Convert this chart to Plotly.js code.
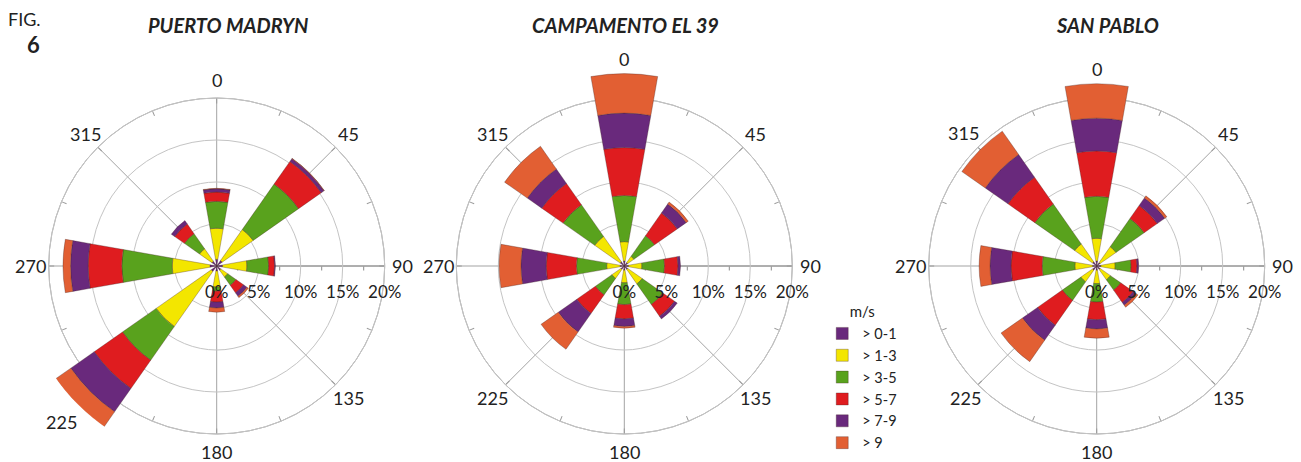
<!DOCTYPE html>
<html>
<head>
<meta charset="utf-8">
<script src="https://cdn.plot.ly/plotly-3.0.1.min.js"></script>
<style>html,body{margin:0;padding:0;background:#fff;}#chart{width:1301px;height:462px;}</style>
</head>
<body>
<div id="chart"></div>
<script>
// Wind direction sectors (degrees)
const directions = [0, 45, 90, 135, 180, 225, 270, 315];
const directionLabels = ['0', '45', '90', '135', '180', '225', '270', '315'];
const speedBins = ['> 0-1', '> 1-3', '> 3-5', '> 5-7', '> 7-9', '> 9'];
const stations = ['PUERTO MADRYN', 'CAMPAMENTO EL 39', 'SAN PABLO'];
const radialTicks = [0, 5, 10, 15, 20];

// Frequency (%) per speed bin, per direction
const puertoMadryn_0_1 = [0.8, 0.8, 0.7, 0.6, 0.6, 0.8, 0.8, 0.7];
const puertoMadryn_1_3 = [3.7, 4.5, 2.9, 1.0, 1.9, 8.0, 4.5, 1.8];
const puertoMadryn_3_5 = [3.2, 6.6, 2.6, 1.2, 0.5, 4.9, 6.0, 2.2];
const puertoMadryn_5_7 = [1.1, 3.3, 0.7, 1.1, 1.3, 4.1, 4.0, 1.4];
const puertoMadryn_7_9 = [0.4, 0.4, 0.1, 0.5, 0.7, 3.4, 2.1, 0.5];
const puertoMadryn_9 = [0.05, 0.05, 0, 0.2, 0.5, 2.2, 0.9, 0];

const campamento_0_1 = [0.6, 0.5, 0.5, 0.5, 0.5, 0.5, 0.5, 0.6];
const campamento_1_3 = [2.3, 0.9, 1.6, 2.1, 1.5, 1.3, 1.6, 3.7];
const campamento_3_5 = [5.5, 3.0, 2.7, 3.0, 2.6, 2.4, 3.6, 4.6];
const campamento_5_7 = [5.7, 3.3, 1.6, 1.7, 1.7, 2.7, 3.6, 3.1];
const campamento_7_9 = [4.1, 1.3, 0.3, 0.4, 0.9, 2.7, 3.0, 2.1];
const campamento_9 = [4.7, 0.3, 0, 0, 0.2, 2.5, 2.6, 3.3];

const sanPablo_0_1 = [0.6, 0.5, 0.5, 0.5, 0.5, 0.6, 0.5, 0.6];
const sanPablo_1_3 = [2.7, 2.3, 1.7, 1.5, 1.6, 1.7, 2.1, 2.6];
const sanPablo_3_5 = [5.0, 4.1, 1.9, 1.5, 2.2, 2.7, 3.9, 5.8];
const sanPablo_5_7 = [5.4, 1.9, 0.7, 1.8, 2.1, 3.6, 3.7, 3.9];
const sanPablo_7_9 = [3.9, 1.1, 0.2, 0.4, 1.1, 2.2, 2.5, 3.3];
const sanPablo_9 = [4.1, 0.3, 0, 0.3, 1.1, 3.1, 1.3, 3.4];

const stationSeries = [
  [puertoMadryn_0_1, puertoMadryn_1_3, puertoMadryn_3_5, puertoMadryn_5_7, puertoMadryn_7_9, puertoMadryn_9],
  [campamento_0_1, campamento_1_3, campamento_3_5, campamento_5_7, campamento_7_9, campamento_9],
  [sanPablo_0_1, sanPablo_1_3, sanPablo_3_5, sanPablo_5_7, sanPablo_7_9, sanPablo_9]
];

const binColors = ['#69297C', '#F3E600', '#59A21D', '#DF1C1F', '#69297C', '#E25F33'];
const FONT = 'Lato, "Open Sans", "DejaVu Sans", sans-serif';
const TXT = '#222';

// ---- geometry (pixels) ----
const W = 1301, H = 462;
const centersX = [216.7, 624.3, 1096.7];
const centerY = 266;
const R20 = 168;               // pixel radius of the 20% circle
const RBAR = 196;              // pixel radius of the bar layer (allows bars beyond 20%)
const barRangeMax = 20 * RBAR / R20;
const pxPerPct = R20 / 20;

function dom(cx, r) {
  return {x: [(cx - r) / W, (cx + r) / W], y: [Math.max(0, 1 - (centerY + r) / H), 1 - (centerY - r) / H]};
}

const gridNames = ['polar', 'polar2', 'polar3'];
const barNames = ['polar4', 'polar5', 'polar6'];

const traces = [];
// spokes (in grid subplots, under the bars)
gridNames.forEach((g) => {
  const r = [], th = [];
  directions.forEach((d) => { r.push(0, 20, null); th.push(d, d, null); });
  traces.push({type: 'scatterpolar', subplot: g, r: r, theta: th, mode: 'lines',
    line: {color: '#a3a3a3', width: 1}, showlegend: false, hoverinfo: 'skip', connectgaps: false});
});

stationSeries.forEach((series, s) => {
  series.forEach((vals, b) => {
    traces.push({
      type: 'barpolar',
      subplot: barNames[s],
      r: vals,
      theta: directions,
      width: directions.map(() => 20),
      name: speedBins[b],
      legendgroup: speedBins[b],
      showlegend: s === 0,
      marker: {color: binColors[b], line: {color: 'rgba(70,40,40,0.55)', width: 0.6}},
      hoverinfo: 'skip'
    });
  });
});

function gridPolar(i) {
  const minorAngles = [];
  for (let a = 0; a < 360; a += 22.5) minorAngles.push(a);
  return {
    domain: dom(centersX[i], R20),
    bgcolor: 'rgba(0,0,0,0)',
    radialaxis: {
      range: [0, 20],
      tickvals: [2.5, 7.5, 12.5, 17.5],
      showticklabels: false,
      ticks: 'outside', ticklen: 4, tickcolor: '#8c8c8c',
      angle: 0,
      showline: true, linecolor: '#8c8c8c', linewidth: 1,
      showgrid: false
    },
    angularaxis: {
      rotation: 90, direction: 'clockwise',
      tickvals: minorAngles,
      showticklabels: false,
      ticks: 'inside', ticklen: 5, tickcolor: '#9a9a9a',
      showline: true, linecolor: '#a3a3a3', linewidth: 1,
      showgrid: false
    }
  };
}

function barPolar(i) {
  return {
    domain: dom(centersX[i], RBAR),
    bgcolor: 'rgba(0,0,0,0)',
    barmode: 'stack',
    radialaxis: {
      range: [0, barRangeMax],
      tickvals: radialTicks,
      ticktext: radialTicks.map(v => v + '%'),
      angle: 0,
      showline: false,
      showgrid: true, gridcolor: '#c4c4c4', gridwidth: 1,
      ticks: 'outside', ticklen: 11, tickcolor: 'rgba(0,0,0,0)',
      tickfont: {family: FONT, size: 17, color: TXT},
      layer: 'above traces'
    },
    angularaxis: {
      rotation: 90, direction: 'clockwise',
      tickvals: directions,
      showticklabels: false, ticks: '',
      showline: false, showgrid: false
    }
  };
}

const annotations = [];
const titleX = [228, 625, 1107];
stations.forEach((name, i) => {
  annotations.push({
    text: '<b><i>' + name + '</i></b>',
    xref: 'paper', yref: 'paper',
    x: titleX[i] / W, y: 1 - 25 / H,
    xanchor: 'center', yanchor: 'middle', showarrow: false,
    font: {family: FONT, size: 20, color: TXT}
  });
});
annotations.push({text: 'FIG.', xref: 'paper', yref: 'paper', x: 6 / W, y: 1 - 19 / H, xanchor: 'left', yanchor: 'middle', showarrow: false, font: {family: FONT, size: 18, color: TXT}});
annotations.push({text: '<b>6</b>', xref: 'paper', yref: 'paper', x: 42 / W, y: 1 - 45 / H, xanchor: 'right', yanchor: 'middle', showarrow: false, font: {family: FONT, size: 22, color: TXT}});

// Direction labels: just outside the 20% circle, or beyond the sector bar if it is longer
stationSeries.forEach((series, s) => {
  directions.forEach((d, i) => {
    const total = series.reduce((acc, arr) => acc + arr[i], 0);
    const rad = d * Math.PI / 180;
    const hw = directionLabels[i].length * 5.2, hh = 9;
    const ext = hw * Math.abs(Math.sin(rad)) + hh * Math.abs(Math.cos(rad));
    const dist = Math.max(186, total * pxPerPct + ext + 6);
    const px = centersX[s] + dist * Math.sin(rad);
    const py = centerY - dist * Math.cos(rad);
    annotations.push({
      text: directionLabels[i], xref: 'paper', yref: 'paper',
      x: px / W, y: 1 - py / H, xanchor: 'center', yanchor: 'middle',
      showarrow: false, borderpad: 0,
      font: {family: FONT, size: 18, color: TXT}
    });
  });
});

const layout = {
  width: W, height: H,
  margin: {l: 0, r: 0, t: 0, b: 0, autoexpand: false},
  paper_bgcolor: '#fff',
  font: {family: FONT, color: TXT},
  showlegend: true,
  legend: {
    x: 0.632, y: 0.355, xanchor: 'left', yanchor: 'top',
    traceorder: 'normal',
    title: {text: 'm/s', side: 'top center', font: {family: FONT, size: 15, color: TXT}},
    font: {family: FONT, size: 14.5, color: TXT},
    itemwidth: 30,
    tracegroupgap: 0,
    bgcolor: 'rgba(0,0,0,0)'
  },
  annotations: annotations
};
gridNames.forEach((g, i) => { layout[g] = gridPolar(i); });
barNames.forEach((b, i) => { layout[b] = barPolar(i); });

Plotly.newPlot('chart', traces, layout, {displayModeBar: false, staticPlot: true});
</script>
</body>
</html>
